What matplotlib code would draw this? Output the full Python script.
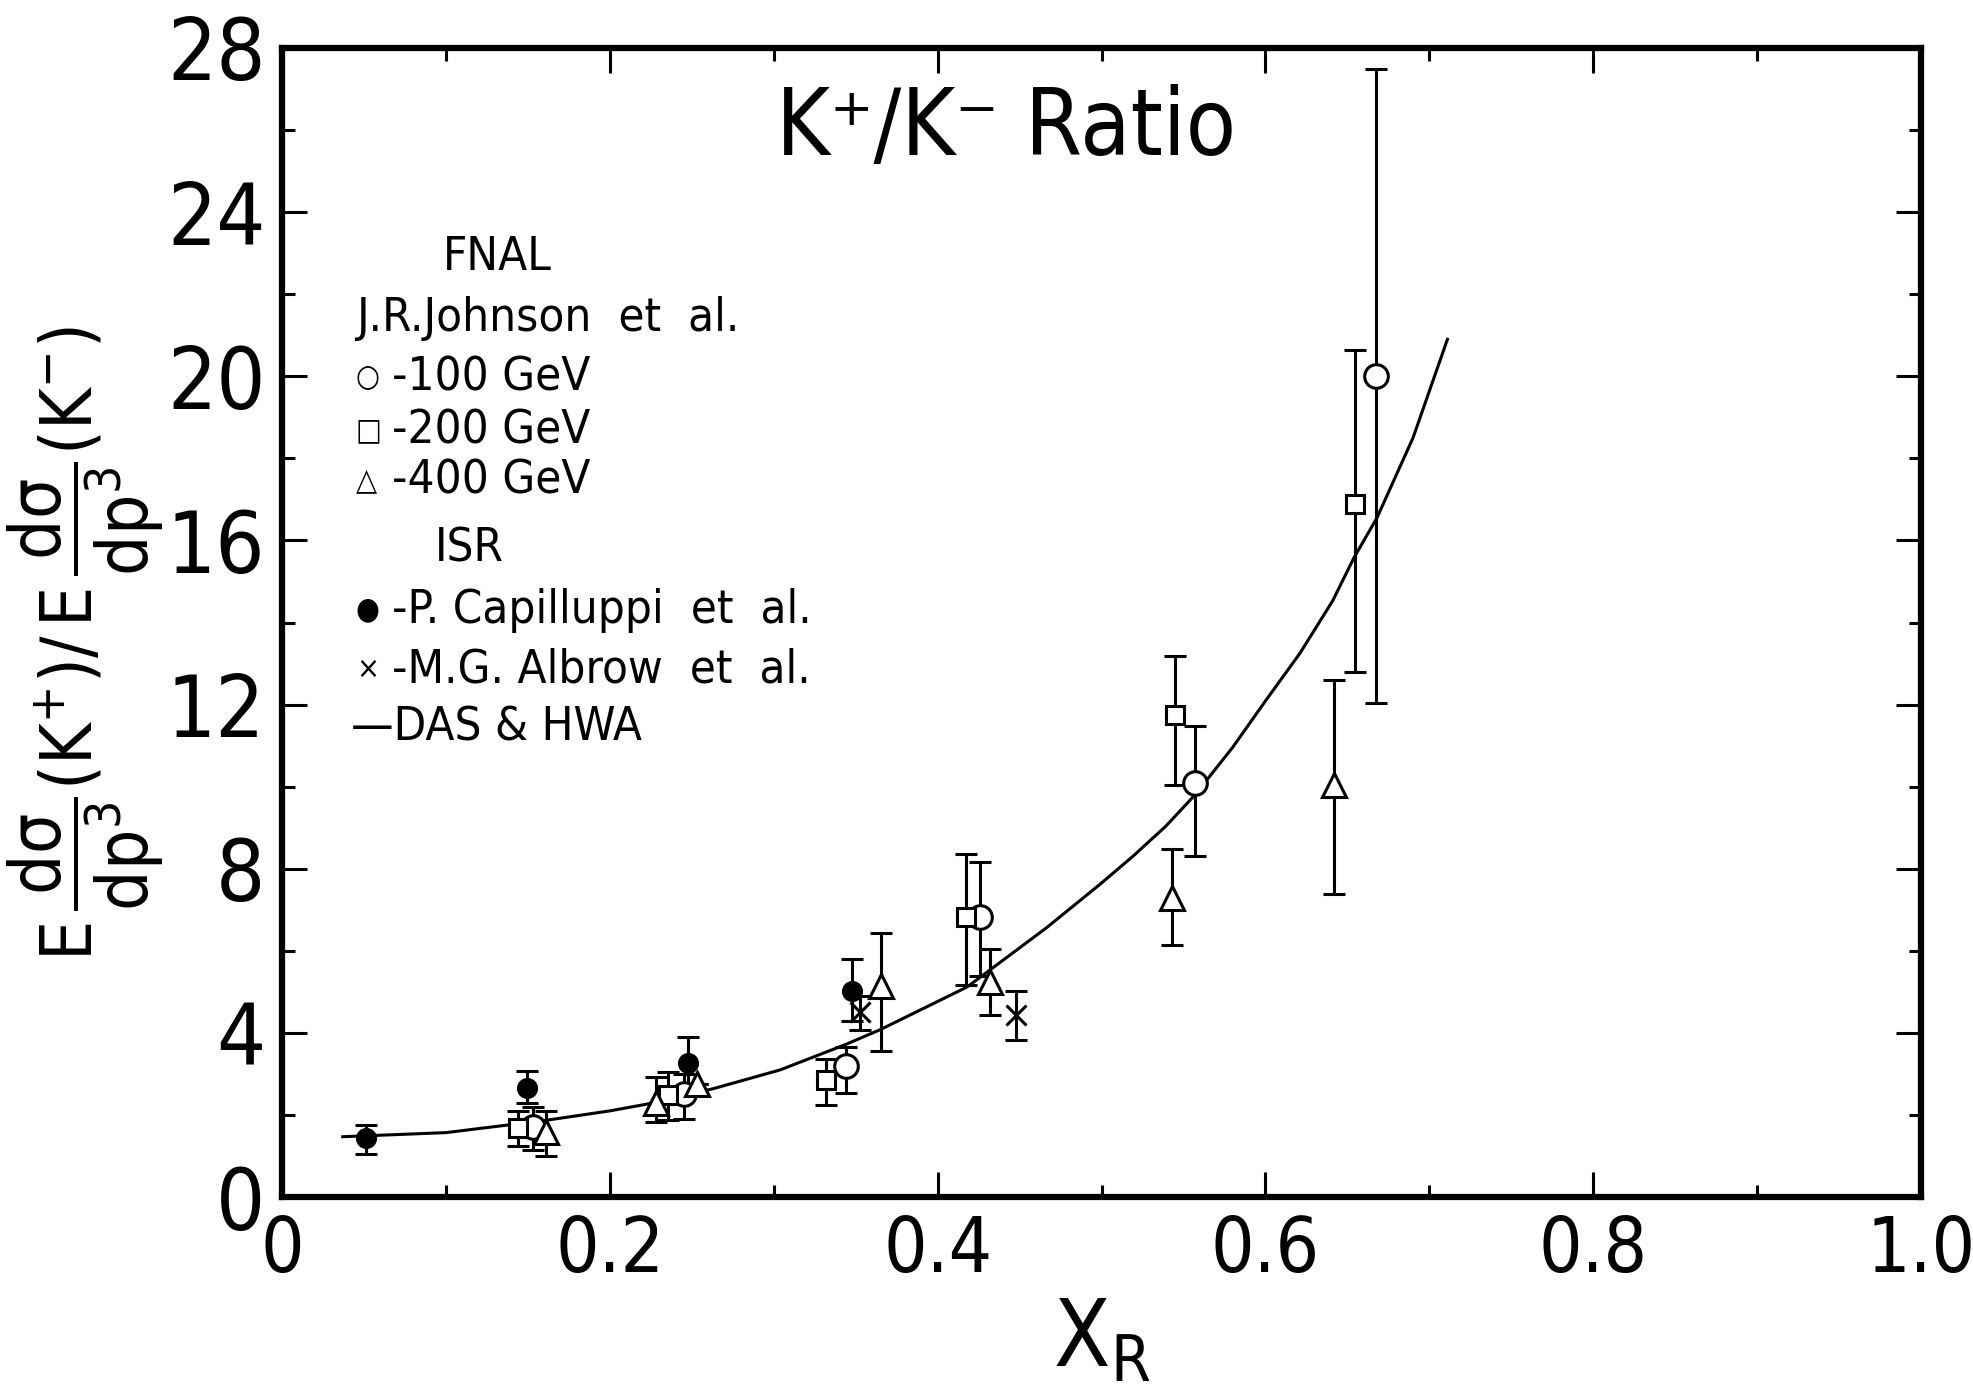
import numpy as np
import matplotlib
matplotlib.use("Agg")
import matplotlib.pyplot as plt
from matplotlib.ticker import MultipleLocator

FONT = ["DejaVu Sans"]
plt.rcParams["font.family"] = FONT
plt.rcParams["font.stretch"] = "condensed"
plt.rcParams["mathtext.fontset"] = "dejavusans"

# FNAL, J.R. Johnson et al. -- 100 GeV (open circles)
x100 = [0.153, 0.245, 0.344, 0.426, 0.557, 0.6675]
y100 = [1.71, 2.50, 3.19, 6.82, 10.10, 20.00]
lo100 = [0.57, 0.60, 0.65, 1.44, 1.80, 7.95]
hi100 = [0.49, 0.50, 0.47, 1.34, 1.38, 7.50]

# 200 GeV (open squares)
x200 = [0.144, 0.2356, 0.332, 0.4175, 0.5445, 0.6549]
y200 = [1.68, 2.48, 2.85, 6.82, 11.74, 16.88]
lo200 = [0.43, 0.61, 0.61, 1.66, 1.69, 4.08]
hi200 = [0.41, 0.57, 0.52, 1.54, 1.45, 3.75]

# 400 GeV (open triangles)
x400 = [0.161, 0.2284, 0.253, 0.3652, 0.4317, 0.543, 0.6417]
y400 = [1.59, 2.28, 2.75, 5.14, 5.24, 7.28, 10.03]
lo400 = [0.59, 0.45, 0.0, 1.59, 0.81, 1.13, 2.64]
hi400 = [0.50, 0.65, 0.0, 1.30, 0.81, 1.20, 2.57]

# ISR, P. Capilluppi et al. (filled circles)
xcap = [0.051, 0.1496, 0.2478, 0.3478]
ycap = [1.45, 2.65, 3.27, 5.03]
locap = [0.41, 0.36, 0.60, 0.73]
hicap = [0.30, 0.43, 0.63, 0.77]

# ISR, M.G. Albrow et al. (crosses)
xalb = [0.3524, 0.448]
yalb = [4.50, 4.43]
loalb = [0.42, 0.61]
hialb = [0.40, 0.59]

# DAS & HWA curve
xc = [0.037, 0.100, 0.161, 0.200, 0.222, 0.263, 0.304, 0.344, 0.365, 0.418,
      0.466, 0.499, 0.519, 0.539, 0.557, 0.580, 0.600, 0.621, 0.641, 0.654,
      0.668, 0.690, 0.711]
yc = [1.47, 1.57, 1.87, 2.10, 2.26, 2.64, 3.10, 3.72, 4.08, 5.12,
      6.55, 7.62, 8.30, 9.03, 9.80, 10.96, 12.09, 13.25, 14.53, 15.58,
      16.55, 18.50, 20.90]

xticks = [0, 0.2, 0.4, 0.6, 0.8, 1.0]
xticklabels = ["0", "0.2", "0.4", "0.6", "0.8", "1.0"]

fig = plt.figure(figsize=(19.74, 13.95), dpi=100)
ax = fig.add_axes([0.1429, 0.1419, 0.8303, 0.8237])

ax.plot(xc, yc, color="black", linewidth=2.2, zorder=2)

eb = dict(fmt="none", ecolor="black", elinewidth=2.2, capsize=8, capthick=2.2, zorder=3)
ax.errorbar(x100, y100, yerr=[lo100, hi100], **eb)
ax.errorbar(x200, y200, yerr=[lo200, hi200], **eb)
ax.errorbar(x400, y400, yerr=[lo400, hi400], **eb)
ax.errorbar(xcap, ycap, yerr=[locap, hicap], **eb)
ax.errorbar(xalb, yalb, yerr=[loalb, hialb], **eb)

mk = dict(linestyle="none", markeredgecolor="black", markeredgewidth=2.2, zorder=4)
ax.plot(x100, y100, marker="o", markersize=17, markerfacecolor="white", **mk)
ax.plot(x200, y200, marker="s", markersize=13, markerfacecolor="white", **mk)
ax.plot(x400, y400, marker="^", markersize=17, markerfacecolor="white", **mk)
ax.plot(xcap, ycap, marker="o", markersize=13, markerfacecolor="black", **mk)
ax.plot(xalb, yalb, marker="x", markersize=15, **mk)

ax.set_xlim(0, 1.0)
ax.set_ylim(0, 28)
ax.set_xticks(xticks)
ax.set_xticklabels(xticklabels)
ax.xaxis.set_minor_locator(MultipleLocator(0.1))
ax.yaxis.set_major_locator(MultipleLocator(4))
ax.yaxis.set_minor_locator(MultipleLocator(2))
ax.tick_params(which="both", direction="in", top=True, right=True, width=2.2, pad=12)
ax.tick_params(axis="y", labelsize=62)
ax.tick_params(axis="x", labelsize=55)
ax.tick_params(which="major", length=18)
ax.tick_params(which="minor", length=9)
for s in ax.spines.values():
    s.set_linewidth(4.5)

ax.set_xlabel(r"X$_{\mathrm{R}}$", fontsize=66, labelpad=6)
ax.set_ylabel(r"$\mathrm{E}\,\dfrac{\mathrm{d}\mathrm{\sigma}}{\mathrm{d}\mathrm{p}^{3}}(\mathrm{K}^{+})/\,"
              r"\mathrm{E}\,\dfrac{\mathrm{d}\mathrm{\sigma}}{\mathrm{d}\mathrm{p}^{3}}(\mathrm{K}^{-})$",
              fontsize=51, va="center")
ax.yaxis.set_label_coords(-0.12, 0.482)

ax.text(0.4417, 0.907, "K\u207a/K\u207b Ratio", transform=ax.transAxes,
        fontsize=66, ha="center", va="baseline")

# legend written as text block: (x, y, symbol, label)
leg = [
    (0.098, 0.807, "", "FNAL"),
    (0.045, 0.754, "", "J.R.Johnson  et  al."),
    (0.045, 0.702, "\u25cb", "-100 GeV"),
    (0.045, 0.656, "\u25a1", "-200 GeV"),
    (0.045, 0.612, "\u25b3", "-400 GeV"),
    (0.093, 0.553, "", "ISR"),
    (0.045, 0.500, "\u25cf", "-P. Capilluppi  et  al."),
    (0.045, 0.448, "\u00d7", "-M.G. Albrow  et  al."),
    (0.042, 0.397, "", "\u2014DAS & HWA"),
]
for lx, ly, sym, s in leg:
    if sym:
        ax.text(lx, ly + 0.004, sym, transform=ax.transAxes, fontsize=22,
                ha="left", va="baseline")
        lx = lx + 0.022
    ax.text(lx, ly, s, transform=ax.transAxes, fontsize=34, ha="left", va="baseline")

fig.savefig("out.png", dpi=100)
